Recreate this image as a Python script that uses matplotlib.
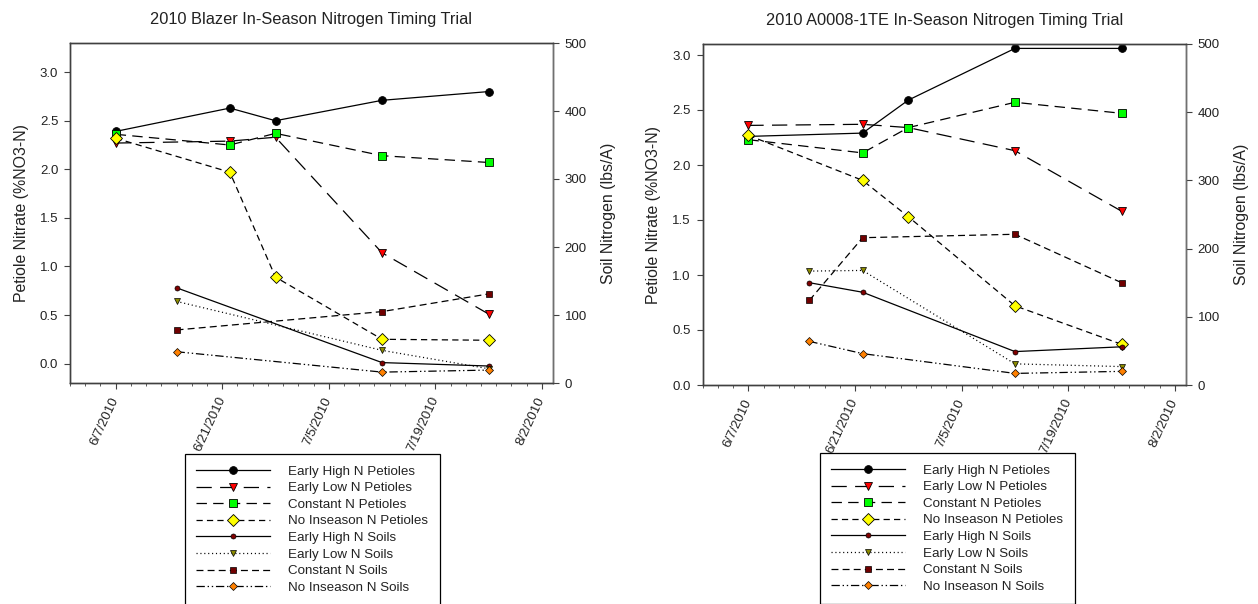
import matplotlib
matplotlib.use('Agg')
import matplotlib.pyplot as plt
import matplotlib.dates as mdates
from matplotlib.ticker import FixedLocator, NullFormatter
from datetime import datetime, timedelta
import numpy as np

plt.rcParams['font.family'] = ['Liberation Sans', 'DejaVu Sans']
plt.rcParams['lines.scale_dashes'] = False

# ---------------- data ----------------
petiole_dates = ['2010-06-07', '2010-06-22', '2010-06-28', '2010-07-12', '2010-07-26']
blazer_soil_dates = ['2010-06-15', '2010-07-12', '2010-07-26']
a0008_soil_dates = ['2010-06-15', '2010-06-22', '2010-07-12', '2010-07-26']

series_labels = ['Early High N Petioles', 'Early Low N Petioles', 'Constant N Petioles',
                 'No Inseason N Petioles', 'Early High N Soils', 'Early Low N Soils',
                 'Constant N Soils', 'No Inseason N Soils']

blazer_early_high_pet = [2.39, 2.63, 2.50, 2.71, 2.80]
blazer_early_low_pet = [2.27, 2.29, 2.33, 1.14, 0.51]
blazer_constant_pet = [2.36, 2.25, 2.37, 2.14, 2.07]
blazer_no_inseason_pet = [2.32, 1.97, 0.89, 0.25, 0.24]
blazer_early_high_soil = [140, 30, 25]
blazer_early_low_soil = [120, 48, 21]
blazer_constant_soil = [78, 105, 131]
blazer_no_inseason_soil = [46, 16, 19]

a0008_early_high_pet = [2.26, 2.29, 2.59, 3.06, 3.06]
a0008_early_low_pet = [2.36, 2.37, 2.34, 2.13, 1.58]
a0008_constant_pet = [2.23, 2.11, 2.34, 2.57, 2.47]
a0008_no_inseason_pet = [2.27, 1.86, 1.53, 0.72, 0.37]
a0008_early_high_soil = [150, 136, 49, 56]
a0008_early_low_soil = [167, 168, 31, 27]
a0008_constant_soil = [124, 216, 221, 150]
a0008_no_inseason_soil = [64, 46, 17, 20]

titles = ['2010 Blazer In-Season Nitrogen Timing Trial',
          '2010 A0008-1TE In-Season Nitrogen Timing Trial']
x_tick_dates = ['2010-06-07', '2010-06-21', '2010-07-05', '2010-07-19', '2010-08-02']
x_tick_labels = ['6/7/2010', '6/21/2010', '7/5/2010', '7/19/2010', '8/2/2010']
left_ticks = [0.0, 0.5, 1.0, 1.5, 2.0, 2.5, 3.0]
right_ticks = [0, 100, 200, 300, 400, 500]

# ---------------- styles ----------------
styles = [
    dict(ls='-', marker='o', mfc='black', ms=5.6),
    dict(ls=(0, (11, 6)), marker='v', mfc='#ff0000', ms=6.0),
    dict(ls=(0, (7.5, 4.5)), marker='s', mfc='#00ff00', ms=5.2),
    dict(ls=(0, (4.5, 3)), marker='D', mfc='#ffff00', ms=6.0),
    dict(ls='-', marker='o', mfc='#800000', ms=3.6),
    dict(ls=(0, (0.8, 2.0)), marker='v', mfc='#8c8c00', ms=4.0),
    dict(ls=(0, (5, 3)), marker='s', mfc='#700000', ms=3.8),
    dict(ls=(0, (6, 2, 1, 2, 1, 2)), marker='D', mfc='#ff8000', ms=3.6),
]

TXT = '#222222'
FS_TICK = 9.5


def d(s):
    return datetime.strptime(s, '%Y-%m-%d')


fig = plt.figure(figsize=(12.58, 6.04), dpi=100)
W, H = 1258, 604


def make_panel(rect, title, ylim_left, pet_series, soil_dates, soil_series, legend_xy):
    ax = fig.add_axes(rect)
    ax2 = ax.twinx()
    pd_ = [d(s) for s in petiole_dates]
    sd_ = [d(s) for s in soil_dates]
    handles = []
    for vals, st, lab in zip(pet_series, styles[:4], series_labels[:4]):
        h, = ax.plot(pd_, vals, color='black', ls=st['ls'], lw=0.9,
                     marker=st['marker'], mfc=st['mfc'], mec='black', mew=0.6,
                     ms=st['ms'], label=lab)
        handles.append(h)
    for vals, st, lab in zip(soil_series, styles[4:], series_labels[4:]):
        h, = ax2.plot(sd_, vals, color='black', ls=st['ls'], lw=0.9,
                      marker=st['marker'], mfc=st['mfc'], mec='black', mew=0.5,
                      ms=st['ms'], label=lab)
        handles.append(h)

    ax.set_xlim(d('2010-06-01'), d('2010-08-03') + timedelta(hours=11))
    ax.set_ylim(*ylim_left)
    ax2.set_ylim(0, 500)
    ax.set_yticks(left_ticks)
    ax.set_yticklabels(['%.1f' % v for v in left_ticks])
    ax2.set_yticks(right_ticks)
    ax2.set_yticklabels([str(v) for v in right_ticks])

    ax.xaxis.set_major_locator(FixedLocator([mdates.date2num(d(s)) for s in x_tick_dates]))
    ax.set_xticklabels(x_tick_labels, rotation=65, ha='right', va='center',
                       rotation_mode='anchor')
    start = mdates.date2num(d('2010-06-01'))
    ax.xaxis.set_minor_locator(FixedLocator(list(np.arange(start, start + 64, 2))))
    ax.xaxis.set_minor_formatter(NullFormatter())

    for a in (ax, ax2):
        for sp in a.spines.values():
            sp.set_color('#404040')
            sp.set_linewidth(1.0)
    ax2.spines['right'].set_color('#707070')
    ax.tick_params(axis='y', which='major', length=4.5, width=0.8, labelsize=FS_TICK,
                   colors='#404040', labelcolor=TXT, pad=4)
    ax.tick_params(axis='x', which='major', length=4.5, width=0.8, labelsize=FS_TICK,
                   colors='#404040', labelcolor=TXT, pad=6)
    ax.tick_params(axis='x', which='minor', length=2.5, width=0.6, colors='#404040')
    ax2.tick_params(axis='y', which='major', length=4.5, width=0.8, labelsize=FS_TICK,
                    colors='#404040', labelcolor=TXT, pad=4)

    ax.set_ylabel('Petiole Nitrate (%NO3-N)', fontsize=11.4, color=TXT, labelpad=8)
    ax2.set_ylabel('Soil Nitrogen (lbs/A)', fontsize=11.4, color=TXT, labelpad=10)
    ax.set_title(title, fontsize=11.8, color=TXT, pad=14)

    leg = fig.legend(handles=handles, loc='upper left',
                     bbox_to_anchor=(legend_xy[0] / W, 1 - legend_xy[1] / H),
                     bbox_transform=fig.transFigure,
                     fontsize=9.6, frameon=True, fancybox=False, edgecolor='black',
                     handlelength=5.5, handletextpad=1.4, labelspacing=0.32,
                     borderpad=0.85, borderaxespad=0.0, framealpha=1.0)
    leg.get_frame().set_linewidth(0.9)
    for t in leg.get_texts():
        t.set_color(TXT)
    return ax, ax2


make_panel([70 / W, 1 - 383 / H, 483 / W, 340 / H], titles[0], (-0.2, 3.3),
           [blazer_early_high_pet, blazer_early_low_pet, blazer_constant_pet,
            blazer_no_inseason_pet],
           blazer_soil_dates,
           [blazer_early_high_soil, blazer_early_low_soil, blazer_constant_soil,
            blazer_no_inseason_soil],
           (185, 454))

make_panel([702.7 / W, 1 - 385 / H, 483.3 / W, 341 / H], titles[1], (0.0, 3.1),
           [a0008_early_high_pet, a0008_early_low_pet, a0008_constant_pet,
            a0008_no_inseason_pet],
           a0008_soil_dates,
           [a0008_early_high_soil, a0008_early_low_soil, a0008_constant_soil,
            a0008_no_inseason_soil],
           (820, 453))

fig.savefig('out.png', dpi=100)
